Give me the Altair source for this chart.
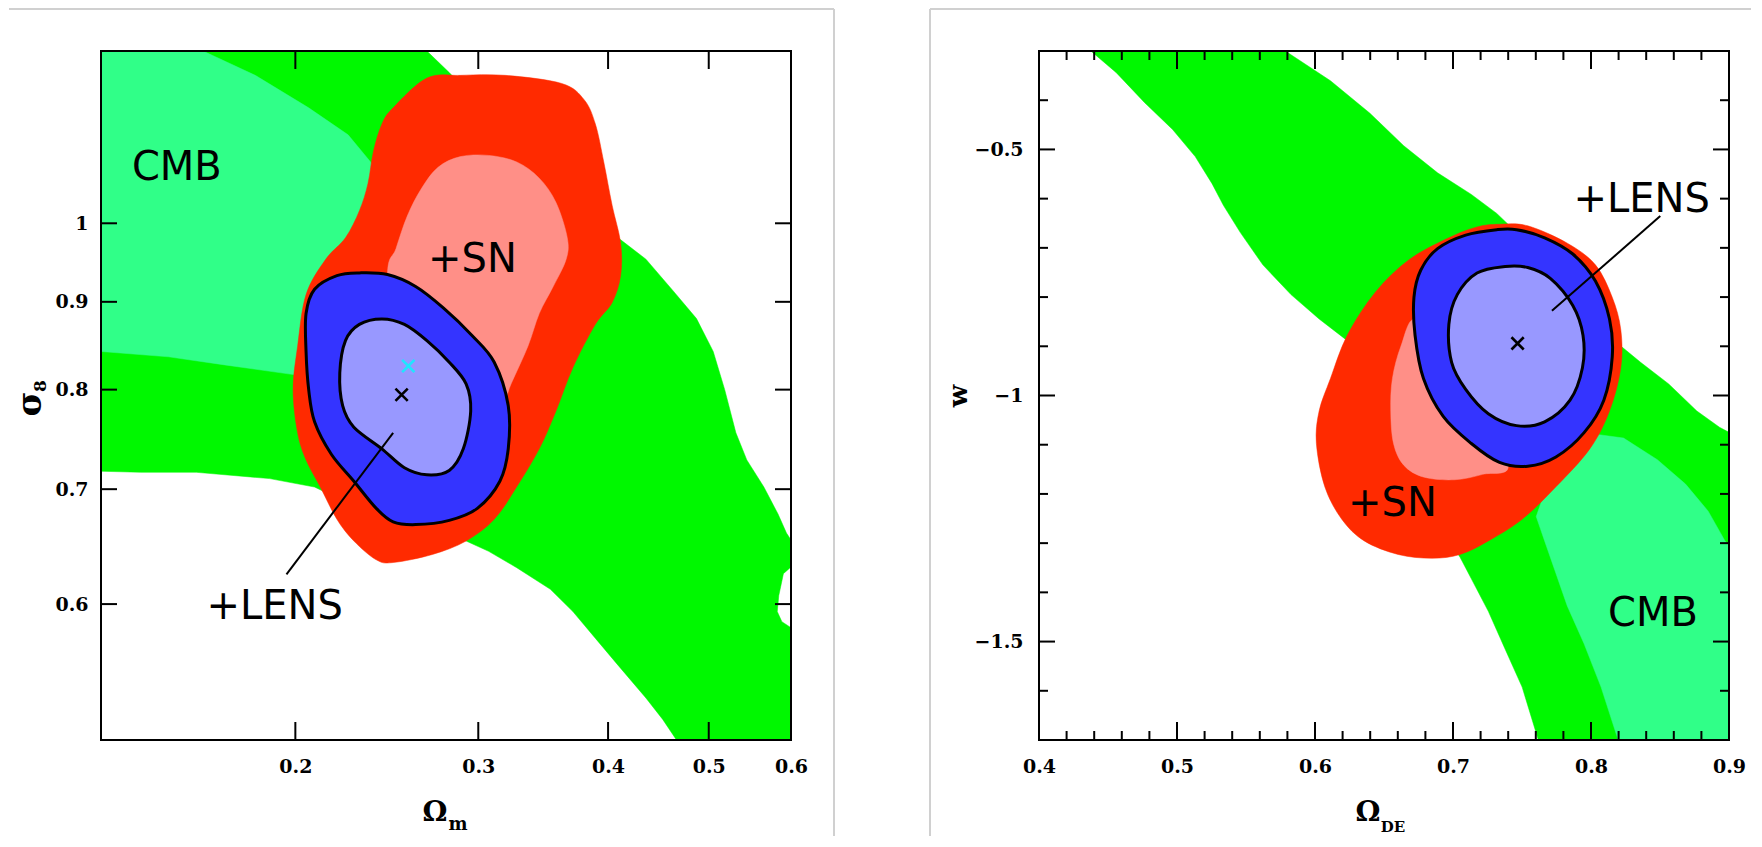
import altair as alt
import pandas as pd

W, H = 690, 689

# ---------------- left panel: Omega_m vs sigma_8 ----------------
LX_DOMAIN = [0.13, 0.6]
LY_DOMAIN = [0.5, 1.26]
LX_TICKS = [0.2, 0.3, 0.4, 0.5, 0.6]
LY_TICKS = [0.6, 0.7, 0.8, 0.9, 1.0]

L_CMB95_X = [0.120, 0.254, 0.2677, 0.2813, 0.2994, 0.339, 0.384, 0.4087, 0.435, 0.463, 0.4866,
             0.505, 0.518, 0.531, 0.544, 0.565, 0.583, 0.594, 0.606, 0.606, 0.590, 0.584, 0.582,
             0.588, 0.606, 0.620, 0.487, 0.4515, 0.435, 0.4087, 0.389, 0.370, 0.352, 0.3267, 0.307,
             0.292, 0.2813, 0.2484, 0.2193, 0.2087, 0.1889, 0.1606, 0.142, 0.120]
L_CMB95_Y = [1.300, 1.300, 1.260, 1.224, 1.176, 1.102, 1.0245, 0.981, 0.953, 0.912, 0.880,
             0.842, 0.800, 0.755, 0.728, 0.702, 0.677, 0.660, 0.648, 0.634, 0.625, 0.607, 0.594,
             0.586, 0.579, 0.480, 0.480, 0.514, 0.529, 0.553, 0.573, 0.594, 0.612, 0.630, 0.644,
             0.653, 0.658, 0.672, 0.692, 0.702, 0.710, 0.716, 0.716, 0.718]

L_CMB68_X = [0.120, 0.146, 0.1630, 0.183, 0.206, 0.2248, 0.2363, 0.2547, 0.2484, 0.2193, 0.200,
             0.171, 0.151, 0.130, 0.120]
L_CMB68_Y = [1.300, 1.300, 1.260, 1.2195, 1.1675, 1.126, 1.0857, 0.974, 0.842, 0.812, 0.816,
             0.827, 0.836, 0.842, 0.843]

L_SN95_X = [0.2484, 0.2677, 0.2884, 0.3186, 0.3609, 0.3793, 0.3889, 0.3962, 0.4036, 0.4113, 0.4113,
            0.4036, 0.3889, 0.370, 0.3564, 0.3434, 0.3267, 0.3108, 0.292, 0.271, 0.2484, 0.2393,
            0.2277, 0.2193, 0.2113, 0.2048, 0.201, 0.199, 0.201, 0.2048, 0.2139, 0.2235, 0.2305,
            0.2349, 0.2378, 0.2423]
L_SN95_Y = [1.1675, 1.215, 1.2195, 1.2195, 1.2063, 1.1804, 1.1424, 1.0857, 1.0245, 0.9737, 0.9322,
            0.899, 0.8732, 0.824, 0.7774, 0.7389, 0.7023, 0.6723, 0.653, 0.6413, 0.6344, 0.6367,
            0.653, 0.6723, 0.7023, 0.728, 0.755, 0.800, 0.848, 0.9088, 0.9528, 0.9808, 1.017,
            1.0546, 1.1016, 1.1424]

L_SN68_X = [0.2884, 0.307, 0.3267, 0.3434, 0.3564, 0.3654, 0.3645, 0.3542, 0.3434, 0.3349, 0.3226,
            0.3108, 0.2813, 0.2484, 0.2453, 0.25, 0.2563, 0.2643, 0.2744]
L_SN68_Y = [1.0936, 1.0953, 1.0857, 1.0624, 1.0282, 0.9808, 0.9528, 0.9187, 0.886, 0.848, 0.8062,
            0.7662, 0.755, 0.812, 0.9322, 0.9667, 1.0097, 1.047, 1.078]

L_LENS95_X = [0.2305, 0.2453, 0.2611, 0.2778, 0.2957, 0.3108, 0.3206, 0.3206, 0.3147, 0.2994, 0.2813,
              0.2611, 0.2484, 0.2393, 0.2277, 0.2166, 0.2087, 0.206, 0.2048, 0.2048, 0.2087, 0.2193]
L_LENS95_Y = [0.9356, 0.9335, 0.9187, 0.8924, 0.8606, 0.83, 0.783, 0.7389, 0.7075, 0.6822, 0.6713,
              0.6675, 0.67, 0.6822, 0.7075, 0.7336, 0.7662, 0.800, 0.842, 0.886, 0.9154, 0.9322]

L_LENS68_X = [0.2423, 0.2547, 0.2677, 0.2813, 0.292, 0.295, 0.2902, 0.2813, 0.2677, 0.2547, 0.2423,
              0.2277, 0.2221, 0.2207, 0.2235, 0.2305]
L_LENS68_Y = [0.8796, 0.8732, 0.8544, 0.83, 0.8062, 0.7774, 0.7389, 0.7178, 0.7136, 0.7204, 0.7389,
              0.7607, 0.783, 0.818, 0.8544, 0.8732]

L_BEST_X, L_BEST_Y = [0.2531], [0.7945]
L_CYAN_X, L_CYAN_Y = [0.2569], [0.8257]
L_LEADER_X, L_LEADER_Y = [0.1961, 0.2484], [0.6244, 0.755]
L_LABELS = ["CMB", "+SN", "+LENS"]
L_LABEL_X = [0.1538, 0.2961, 0.191]
L_LABEL_Y = [1.082, 0.956, 0.5998]

# ---------------- right panel: Omega_DE vs w ----------------
RX_DOMAIN = [0.4, 0.9]
RY_DOMAIN = [-1.7, -0.3]
RX_MAJOR = [0.4, 0.5, 0.6, 0.7, 0.8, 0.9]
RX_MINOR = [0.42, 0.44, 0.46, 0.48, 0.52, 0.54, 0.56, 0.58, 0.62, 0.64, 0.66, 0.68,
            0.72, 0.74, 0.76, 0.78, 0.82, 0.84, 0.86, 0.88]
RY_MAJOR = [-0.5, -1.0, -1.5]
RY_MINOR = [-0.4, -0.6, -0.7, -0.8, -0.9, -1.1, -1.2, -1.3, -1.4, -1.6]

R_CMB95_X = [0.425, 0.5625, 0.5785, 0.6112, 0.6398, 0.6643, 0.6888, 0.7133, 0.7317, 0.7542, 0.795,
             0.8216, 0.8359, 0.8563, 0.8767, 0.8931, 0.910, 0.910, 0.764, 0.7501, 0.7378, 0.7256,
             0.7133, 0.7051, 0.6725, 0.6316, 0.6234, 0.603, 0.5826, 0.5622, 0.5458, 0.5336, 0.5254,
             0.5132, 0.4968, 0.4764, 0.456, 0.4376]
R_CMB95_Y = [-0.27, -0.27, -0.30, -0.3605, -0.4265, -0.4925, -0.5475, -0.5915, -0.63, -0.6905, -0.8115,
             -0.8995, -0.9325, -0.9765, -1.0315, -1.0645, -1.09, -1.72, -1.72, -1.5925, -1.5155, -1.4385,
             -1.3725, -1.3285, -1.1855, -0.9105, -0.8885, -0.8445, -0.795, -0.7345, -0.6685, -0.6135,
             -0.5695, -0.5145, -0.4595, -0.4045, -0.344, -0.30]

R_CMB68_X = [0.795, 0.8236, 0.8481, 0.8685, 0.8849, 0.8971, 0.910, 0.910, 0.822, 0.8073, 0.795,
             0.7828, 0.7746, 0.7664, 0.7603, 0.7746]
R_CMB68_Y = [-1.0755, -1.0865, -1.1305, -1.18, -1.235, -1.2955, -1.33, -1.72, -1.72, -1.5925, -1.5045,
             -1.4275, -1.3615, -1.2955, -1.246, -1.1305]

R_SN95_X = [0.7337, 0.7542, 0.7828, 0.8032, 0.8154, 0.8216, 0.8216, 0.8134, 0.7991, 0.7746, 0.7501,
            0.7256, 0.7051, 0.6847, 0.6602, 0.6357, 0.6194, 0.6071, 0.601, 0.603, 0.6112, 0.6234,
            0.6439, 0.6684, 0.697, 0.7174]
R_SN95_Y = [-0.652, -0.6553, -0.6905, -0.7345, -0.8005, -0.8665, -0.9435, -1.0315, -1.1085, -1.1855,
            -1.2515, -1.2955, -1.323, -1.3307, -1.323, -1.2955, -1.2515, -1.1855, -1.0975, -1.0315,
            -0.9655, -0.8775, -0.7895, -0.7235, -0.6795, -0.6575]

R_SN68_X = [0.6725, 0.6623, 0.6561, 0.6549, 0.6569, 0.6643, 0.6786, 0.7011, 0.7215, 0.7399, 0.7133,
            0.6929]
R_SN68_Y = [-0.8445, -0.8995, -0.9655, -1.0315, -1.0975, -1.1415, -1.1657, -1.1712, -1.1602, -1.1415,
            -1.0205, -0.9105]

R_LENS95_X = [0.7317, 0.746, 0.7664, 0.7868, 0.8032, 0.8134, 0.8154, 0.8093, 0.795, 0.7746, 0.7542,
              0.7337, 0.7133, 0.6929, 0.6786, 0.6725, 0.6717, 0.6766, 0.6888, 0.7092]
R_LENS95_Y = [-0.663, -0.663, -0.6795, -0.7125, -0.7675, -0.8445, -0.9215, -1.0095, -1.0755, -1.125,
              -1.1437, -1.136, -1.0975, -1.0425, -0.9655, -0.8775, -0.8005, -0.7455, -0.7015, -0.674]

R_LENS68_X = [0.7378, 0.7542, 0.7705, 0.7868, 0.7942, 0.7938, 0.7848, 0.7664, 0.746, 0.7256, 0.7092,
              0.699, 0.697, 0.7031, 0.7174]
R_LENS68_Y = [-0.7378, -0.74, -0.762, -0.817, -0.8775, -0.9435, -1.0095, -1.0535, -1.0612, -1.037,
              -0.9875, -0.9325, -0.8555, -0.795, -0.751]

R_BEST_X, R_BEST_Y = [0.7468], [-0.894]
R_LEADER_X, R_LEADER_Y = [0.8502, 0.7717], [-0.6355, -0.828]
R_LABELS = ["+LENS", "+SN", "CMB"]
R_LABEL_X = [0.8367, 0.6561, 0.8449]
R_LABEL_Y = [-0.597, -1.2152, -1.4385]

# ---------------- styling ----------------
GREEN = "#00f800"
LGREEN = "#30ff88"
RED = "#ff2a00"
SALMON = "#ff8f87"
BLUE = "#3434ff"
LBLUE = "#9898ff"
CYAN = "#1ee6ff"
GRAY = "#d0d0d0"
XMARK = "M-1,-1L1,1M-1,1L1,-1"

ONE = pd.DataFrame({"k": [0]})

AX_COMMON = dict(title=None, ticks=False, tickSize=0, domain=False, grid=False,
                 labelFont="DejaVu Serif", labelFontWeight="bold", labelFontSize=19,
                 labelColor="black", labelFlush=False, labelOverlap=False)


def make_panel(xsc, ysc, xax, yax, polys, xticks, yticks, leader, markers, labels,
               titles, border):
    def xy(xf="x", yf="y"):
        return dict(x=alt.X(f"{xf}:Q", scale=xsc, axis=xax),
                    y=alt.Y(f"{yf}:Q", scale=ysc, axis=yax))

    layers = []
    for xs, ys, fill, interp, outline in polys:
        df = pd.DataFrame({"x": xs, "y": ys, "i": list(range(len(xs)))})
        props = dict(fill=fill, interpolate=interp, clip=True)
        if outline:
            props.update(stroke="black", strokeWidth=3, strokeJoin="round")
        else:
            props.update(stroke=fill, strokeWidth=0.5)
        layers.append(alt.Chart(df).mark_line(**props).encode(order=alt.Order("i:Q"), **xy()))

    for vals, length in xticks:
        df = pd.DataFrame({"x": vals})
        m = alt.Chart(df).mark_rule(color="black", strokeWidth=2)
        enc = dict(x=alt.X("x:Q", scale=xsc, axis=xax))
        layers.append(m.encode(y=alt.value(H), y2=alt.value(H - length), **enc))
        layers.append(m.encode(y=alt.value(0), y2=alt.value(length), **enc))
    for vals, length in yticks:
        df = pd.DataFrame({"y": vals})
        m = alt.Chart(df).mark_rule(color="black", strokeWidth=2)
        enc = dict(y=alt.Y("y:Q", scale=ysc, axis=yax))
        layers.append(m.encode(x=alt.value(0), x2=alt.value(length), **enc))
        layers.append(m.encode(x=alt.value(W - length), x2=alt.value(W), **enc))

    # frame
    layers.append(alt.Chart(ONE).mark_rect(fillOpacity=0, stroke="black", strokeWidth=2).encode(
        x=alt.value(0), x2=alt.value(W), y=alt.value(0), y2=alt.value(H)))

    lx, ly = leader
    ldf = pd.DataFrame({"x": [lx[0]], "x2": [lx[1]], "y": [ly[0]], "y2": [ly[1]]})
    layers.append(alt.Chart(ldf).mark_rule(color="black", strokeWidth=2).encode(
        x2="x2:Q", y2="y2:Q", **xy()))

    for mx, my, col in markers:
        mdf = pd.DataFrame({"x": mx, "y": my})
        layers.append(alt.Chart(mdf).mark_point(shape=XMARK, size=150, filled=False,
                                                strokeWidth=2.6, color=col, opacity=1).encode(**xy()))

    names, tx, ty = labels
    tdf = pd.DataFrame({"x": tx, "y": ty, "t": names})
    layers.append(alt.Chart(tdf).mark_text(font="DejaVu Sans", fontSize=40, color="black",
                                           align="center", baseline="middle", dy=3).encode(
        text="t:N", **xy()))

    for txt, px, py, size, angle in titles:
        kw = dict(text=txt, font="DejaVu Serif", fontWeight="bold", fontSize=size,
                  color="black", align="center", baseline="middle")
        if angle:
            kw["angle"] = angle
        layers.append(alt.Chart(ONE).mark_text(**kw).encode(x=alt.value(px), y=alt.value(py)))

    (hx1, hx2, hy), (vx, vy1, vy2) = border
    layers.append(alt.Chart(ONE).mark_rule(color=GRAY, strokeWidth=2).encode(
        x=alt.value(hx1), x2=alt.value(hx2), y=alt.value(hy)))
    layers.append(alt.Chart(ONE).mark_rule(color=GRAY, strokeWidth=2).encode(
        x=alt.value(vx), y=alt.value(vy1), y2=alt.value(vy2)))

    return alt.layer(*layers).properties(width=W, height=H)


# left panel
l_xsc = alt.Scale(type="log", domain=LX_DOMAIN, nice=False)
l_ysc = alt.Scale(type="log", domain=LY_DOMAIN, nice=False)
l_xax = alt.Axis(values=LX_TICKS, format=".1f", labelPadding=17, **AX_COMMON)
l_yax = alt.Axis(values=LY_TICKS, format=".1~f", labelPadding=13, **AX_COMMON)

left = make_panel(
    l_xsc, l_ysc, l_xax, l_yax,
    polys=[(L_CMB95_X, L_CMB95_Y, GREEN, "linear-closed", False),
           (L_CMB68_X, L_CMB68_Y, LGREEN, "linear-closed", False),
           (L_SN95_X, L_SN95_Y, RED, "cardinal-closed", False),
           (L_SN68_X, L_SN68_Y, SALMON, "cardinal-closed", False),
           (L_LENS95_X, L_LENS95_Y, BLUE, "cardinal-closed", True),
           (L_LENS68_X, L_LENS68_Y, LBLUE, "cardinal-closed", True)],
    xticks=[(LX_TICKS, 18)],
    yticks=[(LY_TICKS, 16)],
    leader=(L_LEADER_X, L_LEADER_Y),
    markers=[(L_BEST_X, L_BEST_Y, "black"), (L_CYAN_X, L_CYAN_Y, CYAN)],
    labels=(L_LABELS, L_LABEL_X, L_LABEL_Y),
    titles=[("Ω", 334, 762, 28, 0), ("m", 357, 774, 18, 0),
            ("σ", -70, 353, 34, 270), ("8", -60, 335, 17, 270)],
    border=((-92, 733, -42), (733, -42, 785)),
)

# right panel
r_xsc = alt.Scale(domain=RX_DOMAIN, nice=False, zero=False)
r_ysc = alt.Scale(domain=RY_DOMAIN, nice=False, zero=False)
r_xax = alt.Axis(values=RX_MAJOR, format=".1f", labelPadding=17, **AX_COMMON)
r_yax = alt.Axis(values=RY_MAJOR, format=".1~f", labelPadding=16, **AX_COMMON)

right = make_panel(
    r_xsc, r_ysc, r_xax, r_yax,
    polys=[(R_CMB95_X, R_CMB95_Y, GREEN, "linear-closed", False),
           (R_CMB68_X, R_CMB68_Y, LGREEN, "linear-closed", False),
           (R_SN95_X, R_SN95_Y, RED, "cardinal-closed", False),
           (R_SN68_X, R_SN68_Y, SALMON, "cardinal-closed", False),
           (R_LENS95_X, R_LENS95_Y, BLUE, "cardinal-closed", True),
           (R_LENS68_X, R_LENS68_Y, LBLUE, "cardinal-closed", True)],
    xticks=[(RX_MAJOR, 18), (RX_MINOR, 9)],
    yticks=[(RY_MAJOR, 16), (RY_MINOR, 9)],
    leader=(R_LEADER_X, R_LEADER_Y),
    markers=[(R_BEST_X, R_BEST_Y, "black")],
    labels=(R_LABELS, R_LABEL_X, R_LABEL_Y),
    titles=[("Ω", 329, 762, 28, 0), ("DE", 354, 776, 15, 0),
            ("w", -80, 345, 26, 270)],
    border=((-109, 712, -42), (-109, -42, 785)),
)

chart = alt.hconcat(left, right, spacing=94).properties(
    padding={"left": 0, "top": 0, "right": 0, "bottom": 0},
    background="white",
).configure_view(strokeWidth=0)

chart.save("out.html", embed_options={"renderer": "svg", "actions": False})
